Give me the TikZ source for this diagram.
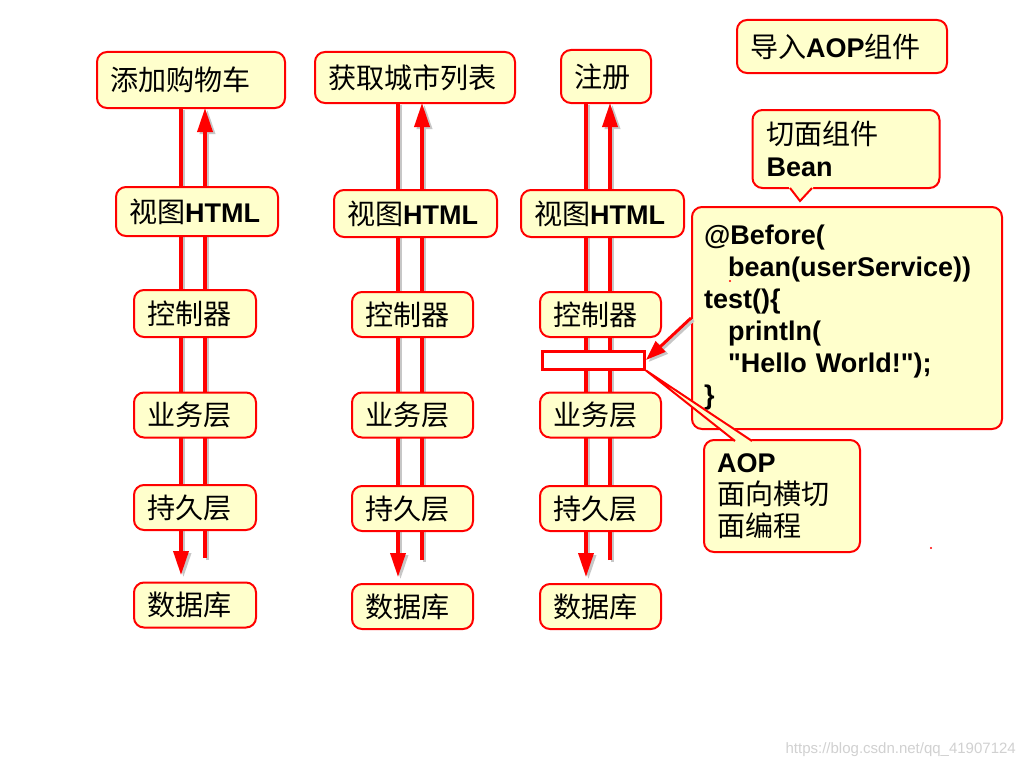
\documentclass[tikz,border=0pt]{standalone}
\usepackage{fontspec}
\setmainfont{Liberation Sans}
\newfontfamily\latin{Liberation Sans}
\newfontfamily\cjk{Noto Sans CJK SC}[Scale=1.04]
\usetikzlibrary{arrows.meta}
\definecolor{boxyellow}{RGB}{255,255,204}
\definecolor{boxred}{RGB}{255,0,0}
\begin{document}
\begin{tikzpicture}[x=1pt,y=-1pt,
  box/.style={draw=boxred, line width=2pt, fill=boxyellow, rounded corners=10pt,
    inner xsep=13pt, inner ysep=0pt, align=left, font=\latin\fontsize{27}{32}\selectfont},
  flow/.style={draw=boxred, line width=3.5pt, -{Triangle[width=15pt,length=24pt]}},
  flowshadow/.style={draw=black!22, line width=3.5pt, -{Triangle[width=15pt,length=24pt]},
    transform canvas={shift={(2.5pt,-2pt)}}},
  tail/.style={draw=boxred, line width=2pt, line join=miter},
  tailfill/.style={fill=boxyellow}
]
\useasboundingbox (0,0) rectangle (1024,768);
\fill[white] (0,0) rectangle (1024,768);

% flow arrows (behind boxes)
\coordinate (dn1) at (181,575); \coordinate (up1) at (205,558);
\coordinate (dn2) at (398,577); \coordinate (up2) at (422,560);
\coordinate (dn3) at (586,577); \coordinate (up3) at (610,560);
\coordinate (t1s) at (191,108); \coordinate (t2s) at (415,103); \coordinate (t3s) at (606,103);
\foreach \c in {1,2,3}{
  \draw[flowshadow] (t\c s -| dn\c) -- (dn\c);
  \draw[flowshadow] (up\c) -- (t\c s -| up\c);
  \draw[flow] (t\c s -| dn\c) -- (dn\c);
  \draw[flow] (up\c) -- (t\c s -| up\c);
}

% column 1
\node[box, text width=162pt, minimum height=56pt] (t1) at (191,80) {\cjk 添加购物车};
\node[box, text width=136pt, minimum height=49pt] (v1) at (197,211.5) {{\cjk 视图}{\bfseries HTML}};
\node[box, text width=96pt, minimum height=47pt] (c1) at (195,313.5) {\cjk 控制器};
\node[box, text width=96pt, minimum height=45pt] (b1) at (195,415) {\cjk 业务层};
\node[box, text width=96pt, minimum height=45pt] (p1) at (195,507.5) {\cjk 持久层};
\node[box, text width=96pt, minimum height=45pt] (d1) at (195,605) {\cjk 数据库};

% column 2
\node[box, text width=174pt, minimum height=51pt] (t2) at (415,77.5) {\cjk 获取城市列表};
\node[box, text width=137pt, minimum height=47pt] (v2) at (415.5,213.5) {{\cjk 视图}{\bfseries HTML}};
\node[box, text width=95pt, minimum height=45pt] (c2) at (412.5,314.5) {\cjk 控制器};
\node[box, text width=95pt, minimum height=45pt] (b2) at (412.5,415) {\cjk 业务层};
\node[box, text width=95pt, minimum height=45pt] (p2) at (412.5,508.5) {\cjk 持久层};
\node[box, text width=95pt, minimum height=45pt] (d2) at (412.5,606.5) {\cjk 数据库};

% column 3
\node[box, text width=64pt, minimum height=53pt] (t3) at (606,76.5) {\cjk 注册};
\node[box, text width=137pt, minimum height=47pt] (v3) at (602.5,213.5) {{\cjk 视图}{\bfseries HTML}};
\node[box, text width=95pt, minimum height=45pt] (c3) at (600.5,314.5) {\cjk 控制器};
\node[box, text width=95pt, minimum height=45pt] (b3) at (600.5,415) {\cjk 业务层};
\node[box, text width=95pt, minimum height=45pt] (p3) at (600.5,508.5) {\cjk 持久层};
\node[box, text width=95pt, minimum height=45pt] (d3) at (600.5,606.5) {\cjk 数据库};

% join point marker
\node[draw=boxred, line width=3pt, fill=white, minimum width=102pt, minimum height=18pt, inner sep=0pt] (mark) at (593.5,360) {};

% title box
\node[box, text width=184pt, minimum height=53pt] (title) at (842,46.5) {{\cjk 导入}{\bfseries AOP}{\cjk 组件}};

% code box
\node[box, text width=286pt, minimum height=222pt, inner xsep=12pt, font=\latin\bfseries\fontsize{27}{32}\selectfont] (code) at (847,318)
  {@Before(\\\hspace*{24pt}bean(userService))\\test()\{\\\hspace*{24pt}println(\\\hspace*{24pt}"Hello World!");\\\}};

% bean callout
\node[box, text width=159pt, minimum height=78pt, inner xsep=14pt] (bean) at (846,149) {{\cjk 切面组件}\\{\bfseries Bean}};
\coordinate (beantip) at (800,201);
\fill[tailfill] (789,186) -- (813,186) -- (813,189) -- (beantip) -- (789,189) -- cycle;
\draw[tail] (790,188) -- (beantip) -- (812,188);

% AOP callout
\node[box, text width=130pt, minimum height=112pt] (aop) at (782,496) {{\bfseries AOP}\\{\cjk 面向横切}\\{\cjk 面编程}};
\fill[tailfill] (mark.south east) -- (735,440) -- (735,443) -- (752,443) -- (752,440) -- cycle;
\draw[tail] (735,441) -- (mark.south east) -- (752,441);

% arrow from advice to join point
\draw[draw=black!22, line width=3pt, -{Triangle[width=14pt,length=20pt]}, transform canvas={shift={(2.5pt,-2pt)}}] (code.west) -- (mark.east);
\draw[draw=boxred, line width=3pt, -{Triangle[width=14pt,length=20pt]}] (code.west) -- (mark.east);

% tiny red specks
\fill[boxred] (730,281) circle (1.2pt);
\fill[boxred] (931,548) circle (1.2pt);

% watermark
\node[font=\latin\fontsize{15}{15}\selectfont, text=black!18, anchor=east, inner sep=0pt] (wm) at (1016,750) {https://blog.csdn.net/qq\_41907124};
\end{tikzpicture}
\end{document}
